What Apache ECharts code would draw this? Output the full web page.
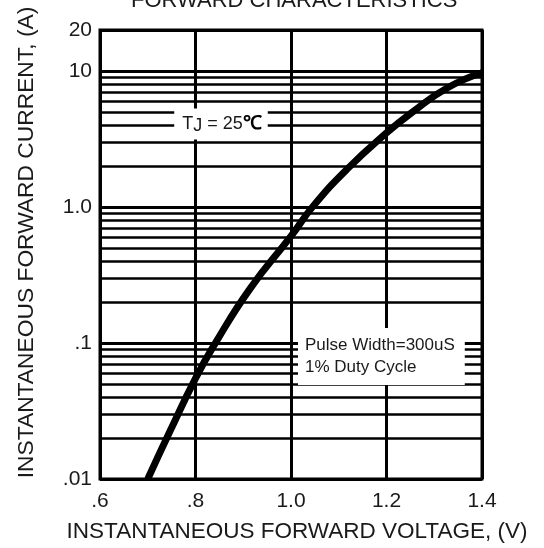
<!DOCTYPE html>
<html>
<head>
<meta charset="utf-8">
<script src="https://cdn.jsdelivr.net/npm/echarts@6/dist/echarts.min.js"></script>
<style>
  html, body { margin: 0; padding: 0; background: #fff; }
  #chart { width: 544px; height: 548px; }
</style>
</head>
<body>
<div id="chart"></div>
<script>
// Forward characteristic: instantaneous forward voltage (V) vs current (A)
const voltage = [0.70, 0.747, 0.80, 0.841, 0.914, 1.00, 1.046, 1.117, 1.20, 1.255, 1.327, 1.40];
const current = [0.010, 0.0226, 0.055, 0.099, 0.25, 0.61, 1.01, 1.89, 3.5, 5.0, 7.5, 9.7];

// Axis ticks and their printed labels
const xTicks = [0.6, 0.8, 1.0, 1.2, 1.4];
const xTickLabels = ['.6', '.8', '1.0', '1.2', '1.4'];
const yTicks = [0.01, 0.1, 1, 10, 20];
const yTickLabels = ['.01', '.1', '1.0', '10', '20'];

// Intermediate log-grid lines (2..9 of each decade)
const minorGridCurrents = [
  0.02, 0.03, 0.04, 0.05, 0.06, 0.07, 0.08, 0.09,
  0.2, 0.3, 0.4, 0.5, 0.6, 0.7, 0.8, 0.9,
  2, 3, 4, 5, 6, 7, 8, 9
];

const FONT = "'Liberation Sans', Arial, Helvetica, sans-serif";
const INK = '#1a1a1a';

function tickLabel(v, ticks, labels) {
  for (let i = 0; i < ticks.length; i++) {
    if (Math.abs(v - ticks[i]) <= 1e-6 * Math.abs(ticks[i])) return labels[i];
  }
  return '';
}

const chart = echarts.init(document.getElementById('chart'), null, { renderer: 'canvas' });

chart.setOption({
  animation: false,
  backgroundColor: '#fff',
  title: {
    text: 'FORWARD CHARACTERISTICS',
    left: 131,
    top: -10,
    padding: 0,
    textStyle: { fontFamily: FONT, fontSize: 22, fontWeight: 'normal', color: INK }
  },
  grid: {
    left: 100, right: 62, top: 30, bottom: 67,
    show: true, borderColor: '#000', borderWidth: 3, backgroundColor: '#fff'
  },
  xAxis: {
    type: 'value',
    min: 0.6, max: 1.4, interval: 0.2,
    axisLine: { show: false },
    axisTick: { show: false },
    splitLine: { show: true, lineStyle: { color: '#000', width: 3 } },
    axisLabel: {
      margin: 12, fontSize: 21, color: INK, fontFamily: FONT,
      showMinLabel: true, showMaxLabel: true,
      formatter: v => tickLabel(v, xTicks, xTickLabels)
    },
    name: 'INSTANTANEOUS FORWARD VOLTAGE, (V)',
    nameLocation: 'middle',
    nameGap: 41,
    nameTextStyle: { fontSize: 22.5, color: INK, fontFamily: FONT, padding: [0, 0, 0, 12] }
  },
  yAxis: {
    type: 'log', logBase: 10,
    min: 0.01, max: 20,
    axisLine: { show: false },
    axisTick: { show: false },
    splitLine: { show: true, lineStyle: { color: '#000', width: 3 } },
    minorSplitLine: { show: false },
    axisLabel: {
      margin: 8, fontSize: 21, color: INK, fontFamily: FONT,
      showMinLabel: true, showMaxLabel: true,
      formatter: v => tickLabel(v, yTicks, yTickLabels)
    },
    name: 'INSTANTANEOUS FORWARD CURRENT, (A)',
    nameLocation: 'middle',
    nameRotate: 90,
    nameGap: 62,
    nameTextStyle: { fontSize: 22.8, color: INK, fontFamily: FONT, padding: [0, 0, 0, 24] }
  },
  series: [
    {
      name: 'grid',
      type: 'line',
      data: [],
      silent: true,
      z: 1,
      markLine: {
        silent: true,
        symbol: ['none', 'none'],
        label: { show: false },
        emphasis: { disabled: true },
        lineStyle: { color: '#000', width: 2.5, type: 'solid' },
        data: minorGridCurrents.map(v => ({ yAxis: v }))
      }
    },
    {
      name: 'IF',
      type: 'line',
      z: 5,
      smooth: 0.5,
      symbol: 'none',
      lineStyle: { color: '#000', width: 7, cap: 'butt', join: 'round' },
      data: voltage.map((v, i) => [v, current[i]])
    }
  ],
  graphic: [
    {
      type: 'text',
      z: 100,
      x: 221, y: 124,
      style: {
        text: '{t|T}{j|J}{t| = 25}{c|℃}',
        align: 'center',
        verticalAlign: 'middle',
        backgroundColor: '#fff',
        padding: [4, 6, 4, 8],
        rich: {
          t: { fontFamily: FONT, fontSize: 18, fill: INK },
          j: { fontFamily: FONT, fontSize: 18, fill: INK, padding: [5, 0, 0, 0] },
          c: { fontFamily: FONT, fontSize: 19, fontWeight: 'bold', fill: '#000' }
        }
      }
    },
    {
      type: 'text',
      z: 100,
      x: 298, y: 328,
      style: {
        text: 'Pulse Width=300uS\n1% Duty Cycle',
        fontFamily: FONT,
        fontSize: 17,
        lineHeight: 22,
        fill: INK,
        align: 'left',
        verticalAlign: 'top',
        backgroundColor: '#fff',
        padding: [6, 10, 7, 7]
      }
    }
  ]
});
</script>
</body>
</html>
